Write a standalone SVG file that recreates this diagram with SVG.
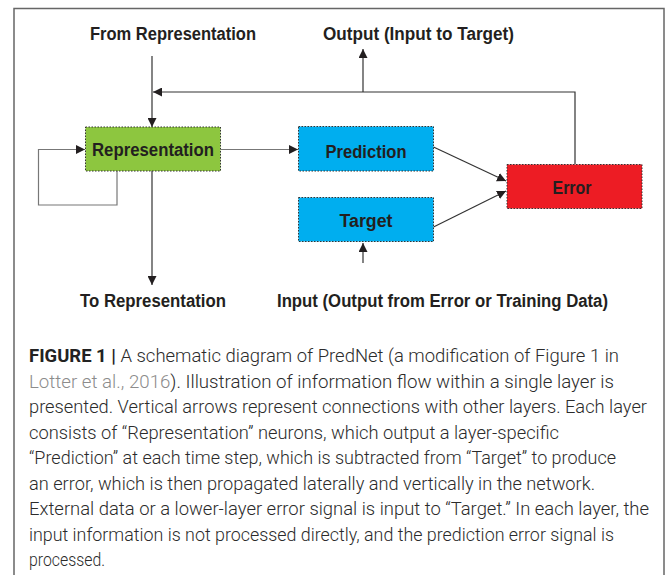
<svg xmlns="http://www.w3.org/2000/svg" width="669" height="575" viewBox="0 0 669 575">
<defs>
<style>
.lbl{font-family:"Liberation Sans",Arial,sans-serif;font-weight:bold;font-size:18px;fill:#231f20}
.box{stroke:#333;stroke-width:1;stroke-dasharray:1.5 1.5}
.con{fill:none;stroke:#333;stroke-width:1.2}
.gray{stroke:#777}
.cap{font-family:Roboto,"Liberation Sans",Arial,sans-serif;font-weight:300;font-size:18.5px;fill:#2b2b2b}
.capb{font-weight:bold;fill:#222}
.link{fill:#8c8c8c}
</style>
<marker id="ah" viewBox="0 0 10 10" refX="10" refY="5" markerWidth="9" markerHeight="9" markerUnits="userSpaceOnUse" orient="auto">
<path d="M0,0 L10,5 L0,10 z" fill="#231f20"/>
</marker>
</defs>
<rect x="0" y="0" width="669" height="575" fill="#fff"/>
<rect x="14" y="8.5" width="650" height="600" fill="none" stroke="#666" stroke-width="1.5"/>

<g id="connectors">
<path class="con" d="M152,56 V127" marker-end="url(#ah)"/>
<path class="con" d="M575,164 V92 H153" marker-end="url(#ah)"/>
<path class="con" d="M363,92 V49" marker-end="url(#ah)"/>
<path class="con gray" d="M117,171 V205 H38.5 V149.5 H85" marker-end="url(#ah)"/>
<path class="con gray" d="M221,149.5 H298" marker-end="url(#ah)"/>
<path class="con" d="M152,171 V285" marker-end="url(#ah)"/>
<path class="con" d="M363,263 V243" marker-end="url(#ah)"/>
<path class="con" d="M433.5,147 L506,181" marker-end="url(#ah)"/>
<path class="con" d="M433.5,227 L506,191" marker-end="url(#ah)"/>
</g>

<g id="representation">
<rect class="box" x="85.5" y="127" width="135" height="44" fill="#8dc63f"/>
<text class="lbl" x="153" y="156" text-anchor="middle" font-size="20" textLength="122" lengthAdjust="spacingAndGlyphs">Representation</text>
</g>
<g id="prediction">
<rect class="box" x="298.5" y="126.5" width="135" height="44.5" fill="#00aeef"/>
<text class="lbl" x="366" y="157.5" text-anchor="middle" font-size="20" textLength="81" lengthAdjust="spacingAndGlyphs">Prediction</text>
</g>
<g id="target">
<rect class="box" x="298.5" y="197.5" width="135" height="44" fill="#00aeef"/>
<text class="lbl" x="366" y="226.5" text-anchor="middle" font-size="20" textLength="53" lengthAdjust="spacingAndGlyphs">Target</text>
</g>
<g id="error">
<rect class="box" x="507" y="164.5" width="135" height="44" fill="#ed1c24"/>
<text class="lbl" x="572" y="193.5" text-anchor="middle" font-size="20" textLength="39" lengthAdjust="spacingAndGlyphs">Error</text>
</g>

<g id="labels">
<text class="lbl" x="173" y="40" text-anchor="middle" textLength="166" lengthAdjust="spacingAndGlyphs">From Representation</text>
<text class="lbl" x="418.5" y="40" text-anchor="middle" textLength="191" lengthAdjust="spacingAndGlyphs">Output (Input to Target)</text>
<text class="lbl" x="153" y="307" text-anchor="middle" textLength="146" lengthAdjust="spacingAndGlyphs">To Representation</text>
<text class="lbl" x="442.5" y="307" text-anchor="middle" textLength="331" lengthAdjust="spacingAndGlyphs">Input (Output from Error or Training Data)</text>
</g>

<g id="caption">
<text class="cap" x="29" y="362" textLength="590" lengthAdjust="spacingAndGlyphs"><tspan class="capb">FIGURE 1 |</tspan> A schematic diagram of PredNet (a modification of Figure 1 in</text>
<text class="cap" x="29" y="387.5" textLength="585" lengthAdjust="spacingAndGlyphs"><tspan class="link">Lotter et al., 2016</tspan>). Illustration of information flow within a single layer is</text>
<text class="cap" x="29" y="413" textLength="618" lengthAdjust="spacingAndGlyphs">presented. Vertical arrows represent connections with other layers. Each layer</text>
<text class="cap" x="29" y="438.5" textLength="530" lengthAdjust="spacingAndGlyphs">consists of “Representation” neurons, which output a layer-specific</text>
<text class="cap" x="29" y="464" textLength="587" lengthAdjust="spacingAndGlyphs">“Prediction” at each time step, which is subtracted from “Target” to produce</text>
<text class="cap" x="29" y="489.5" textLength="566" lengthAdjust="spacingAndGlyphs">an error, which is then propagated laterally and vertically in the network.</text>
<text class="cap" x="29" y="515" textLength="620" lengthAdjust="spacingAndGlyphs">External data or a lower-layer error signal is input to “Target.” In each layer, the</text>
<text class="cap" x="29" y="540.5" textLength="585" lengthAdjust="spacingAndGlyphs">input information is not processed directly, and the prediction error signal is</text>
<text class="cap" x="29" y="566" textLength="76" lengthAdjust="spacingAndGlyphs">processed.</text>
</g>
</svg>
